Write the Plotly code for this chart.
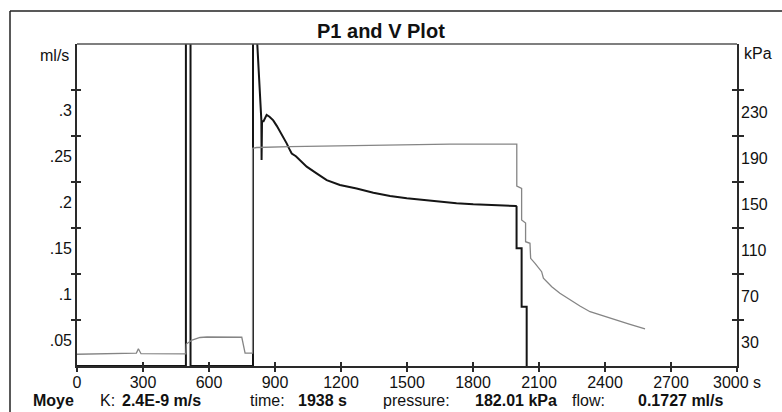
import plotly.graph_objects as go

# ---- data ----
flow_t = [0, 495, 495, 516, 516, 800, 800, 819, 838, 839, 841, 848, 862, 875, 892, 908,
          923, 938, 953, 965, 976, 995, 1014, 1044, 1089, 1135, 1195, 1271, 1347, 1423,
          1499, 1575, 1650, 1725, 1801, 1870, 1923, 1960, 1995, 1998,
          1998, 2021, 2021, 2044, 2044]
flow_v = [0, 0, 0.5, 0.5, 0, 0, 0.5, 0.352, 0.267, 0.224, 0.266, 0.266, 0.273, 0.271,
          0.267, 0.261, 0.255, 0.249, 0.242, 0.236, 0.231, 0.228, 0.224, 0.2167, 0.2094,
          0.202, 0.1967, 0.193, 0.1884, 0.1848, 0.1823, 0.1803, 0.1786, 0.177, 0.1757,
          0.1752, 0.1747, 0.1745, 0.1740, 0.1732, 0.128, 0.128, 0.0645, 0.0645, 0]

pres_t = [0, 250, 270, 279, 291, 495, 497, 523, 559, 591, 749, 764, 798, 798, 817, 968,
          1347, 1695, 1999, 1999, 2021, 2021, 2039, 2039, 2059, 2062, 2082, 2112, 2120,
          2135, 2158, 2195, 2241, 2286, 2332, 2380, 2438, 2510, 2582]
pres_v = [0.2, 0.8, 1.2, 5.0, 0.7, 0.5, 9.1, 12.6, 14.8, 15.2, 15.0, 1.2, 1.2, 179.3, 180.0,
          180.7, 182.2, 183.0, 183.0, 146.5, 144.5, 117.0, 114.3, 98.1, 96.7, 83.6, 79.3,
          72.0, 66.3, 63.3, 59.0, 53.2, 47.4, 42.2, 37.2, 34.5, 31.0, 26.5, 22.2]

x_ticks = [0, 300, 600, 900, 1200, 1500, 1800, 2100, 2400, 2700, 3000]
x_ticktext = ["0", "300", "600", "900", "1200", "1500", "1800", "2100", "2400", "2700", "3000 s"]
left_ticks = [0.05, 0.1, 0.15, 0.2, 0.25, 0.3]
left_labels = [".05", ".1", ".15", ".2", ".25", ".3"]
right_ticks = [30, 70, 110, 150, 190, 230]
right_labels = ["30", "70", "110", "150", "190", "230"]

title_text = "P1 and V Plot"
readout_name = "Moye"
readout_k = "2.4E-9 m/s"
readout_time = "1938 s"
readout_pressure = "182.01 kPa"
readout_flow = "0.1727 ml/s"

# ---- figure ----
FONT = "Liberation Sans, Arial, sans-serif"
W, H = 782, 412
L, R, T, B = 77, 45, 44, 46
PW, PH = W - L - R, H - T - B


def px(x):
    return (x - L) / PW


def py(y):
    return (H - B - y) / PH


fig = go.Figure()
fig.add_trace(go.Scatter(x=pres_t, y=pres_v, mode="lines", yaxis="y2",
                         line=dict(color="#858585", width=1.3), name="P1",
                         showlegend=False))
fig.add_trace(go.Scatter(x=flow_t, y=flow_v, mode="lines", yaxis="y",
                         line=dict(color="#151515", width=2), name="V",
                         showlegend=False))
# empty traces so that the decoration axes are drawn
for xa, ya in [("x2", "y"), ("x", "y3"), ("x", "y4"), ("x", "y5"), ("x", "y6")]:
    fig.add_trace(go.Scatter(x=[None], y=[None], xaxis=xa, yaxis=ya, mode="lines",
                             showlegend=False, hoverinfo="skip"))

axcol = "#2a2a2a"
common = dict(showgrid=False, zeroline=False)
lrange = [0, 0.35]
rrange = [-10, 270]
loff = 0.0225
roff = 19.5

fig.update_layout(
    width=W, height=H,
    margin=dict(l=L, r=R, t=T, b=B, pad=0),
    paper_bgcolor="white", plot_bgcolor="white",
    font=dict(family=FONT, size=16, color="#111"),
    xaxis=dict(range=[0, 3000], tickvals=x_ticks, ticktext=x_ticktext, ticks="outside",
               ticklen=4, tickwidth=1.5, tickcolor=axcol, showline=True, linewidth=2,
               linecolor=axcol, tickfont=dict(family=FONT, size=16, color="#111"),
               ticklabelstandoff=-3, anchor="y", **common),
    xaxis2=dict(range=[0, 3000], overlaying="x", anchor="y", side="bottom",
                tickvals=x_ticks, ticks="inside", ticklen=4, tickwidth=1.5,
                tickcolor=axcol, showticklabels=False, showline=False, **common),
    yaxis=dict(range=lrange, tickvals=left_ticks, ticks="outside", ticklen=4,
               tickwidth=1.5, tickcolor=axcol, showticklabels=False, showline=True,
               linewidth=2, linecolor=axcol, side="left", **common),
    yaxis3=dict(range=lrange, overlaying="y", side="left", tickvals=left_ticks,
                ticks="inside", ticklen=4, tickwidth=1.5, tickcolor=axcol,
                showticklabels=False, showline=False, **common),
    yaxis5=dict(range=lrange, overlaying="y", side="left",
                tickvals=[v - loff for v in left_ticks], ticktext=left_labels,
                ticks="", showticklabels=True, showline=False, ticklabelstandoff=4,
                tickfont=dict(family=FONT, size=16, color="#111"), **common),
    yaxis2=dict(range=rrange, overlaying="y", side="right", tickvals=right_ticks,
                ticks="outside", ticklen=5, tickwidth=1.5, tickcolor=axcol,
                showticklabels=False, showline=True, linewidth=2, linecolor=axcol,
                **common),
    yaxis4=dict(range=rrange, overlaying="y", side="right", tickvals=right_ticks,
                ticks="inside", ticklen=5, tickwidth=1.5, tickcolor=axcol,
                showticklabels=False, showline=False, **common),
    yaxis6=dict(range=rrange, overlaying="y", side="right",
                tickvals=[v - roff for v in right_ticks], ticktext=right_labels,
                ticks="", showticklabels=True, showline=False, ticklabelstandoff=3,
                tickfont=dict(family=FONT, size=16, color="#111"), **common),
)

# plot-area top border and outer frame
fig.add_shape(type="line", xref="paper", yref="paper", x0=0, x1=1, y0=1, y1=1,
              line=dict(color="#555", width=1.3))
fig.add_shape(type="line", xref="paper", yref="paper", x0=px(10), x1=px(10),
              y0=py(11), y1=py(420), line=dict(color="#222", width=1.5))
fig.add_shape(type="line", xref="paper", yref="paper", x0=px(10), x1=px(790),
              y0=py(11), y1=py(11), line=dict(color="#222", width=1.5))

ann = []
ann.append(dict(text="<b>" + title_text + "</b>", x=px(380.5), y=py(30.5), xanchor="center",
                yanchor="middle", font=dict(size=20)))
ann.append(dict(text="ml/s", x=px(71), y=py(56), xanchor="right", yanchor="middle"))
ann.append(dict(text="kPa", x=px(742), y=py(53), xanchor="left", yanchor="middle"))
bottom = [("<b>" + readout_name + "</b>", 32),
          ("K:", 99),
          ("<b>" + readout_k + "</b>", 121),
          ("time:", 249),
          ("<b>" + readout_time + "</b>", 297),
          ("pressure:", 382),
          ("<b>" + readout_pressure + "</b>", 474),
          ("flow:", 571),
          ("<b>" + readout_flow + "</b>", 637)]
for txt, xl in bottom:
    ann.append(dict(text=txt, x=px(xl), y=py(400), xanchor="left", yanchor="middle",
                    borderpad=0))
for a in ann:
    a.update(xref="paper", yref="paper", showarrow=False)
    a.setdefault("font", dict(size=16))
    a["font"].setdefault("family", FONT)
    a["font"].setdefault("color", "#111")
fig.update_layout(annotations=ann)

fig.write_html("out.html", config={"displayModeBar": False},
               post_script="document.body.style.margin='0';document.body.style.padding='0';")
